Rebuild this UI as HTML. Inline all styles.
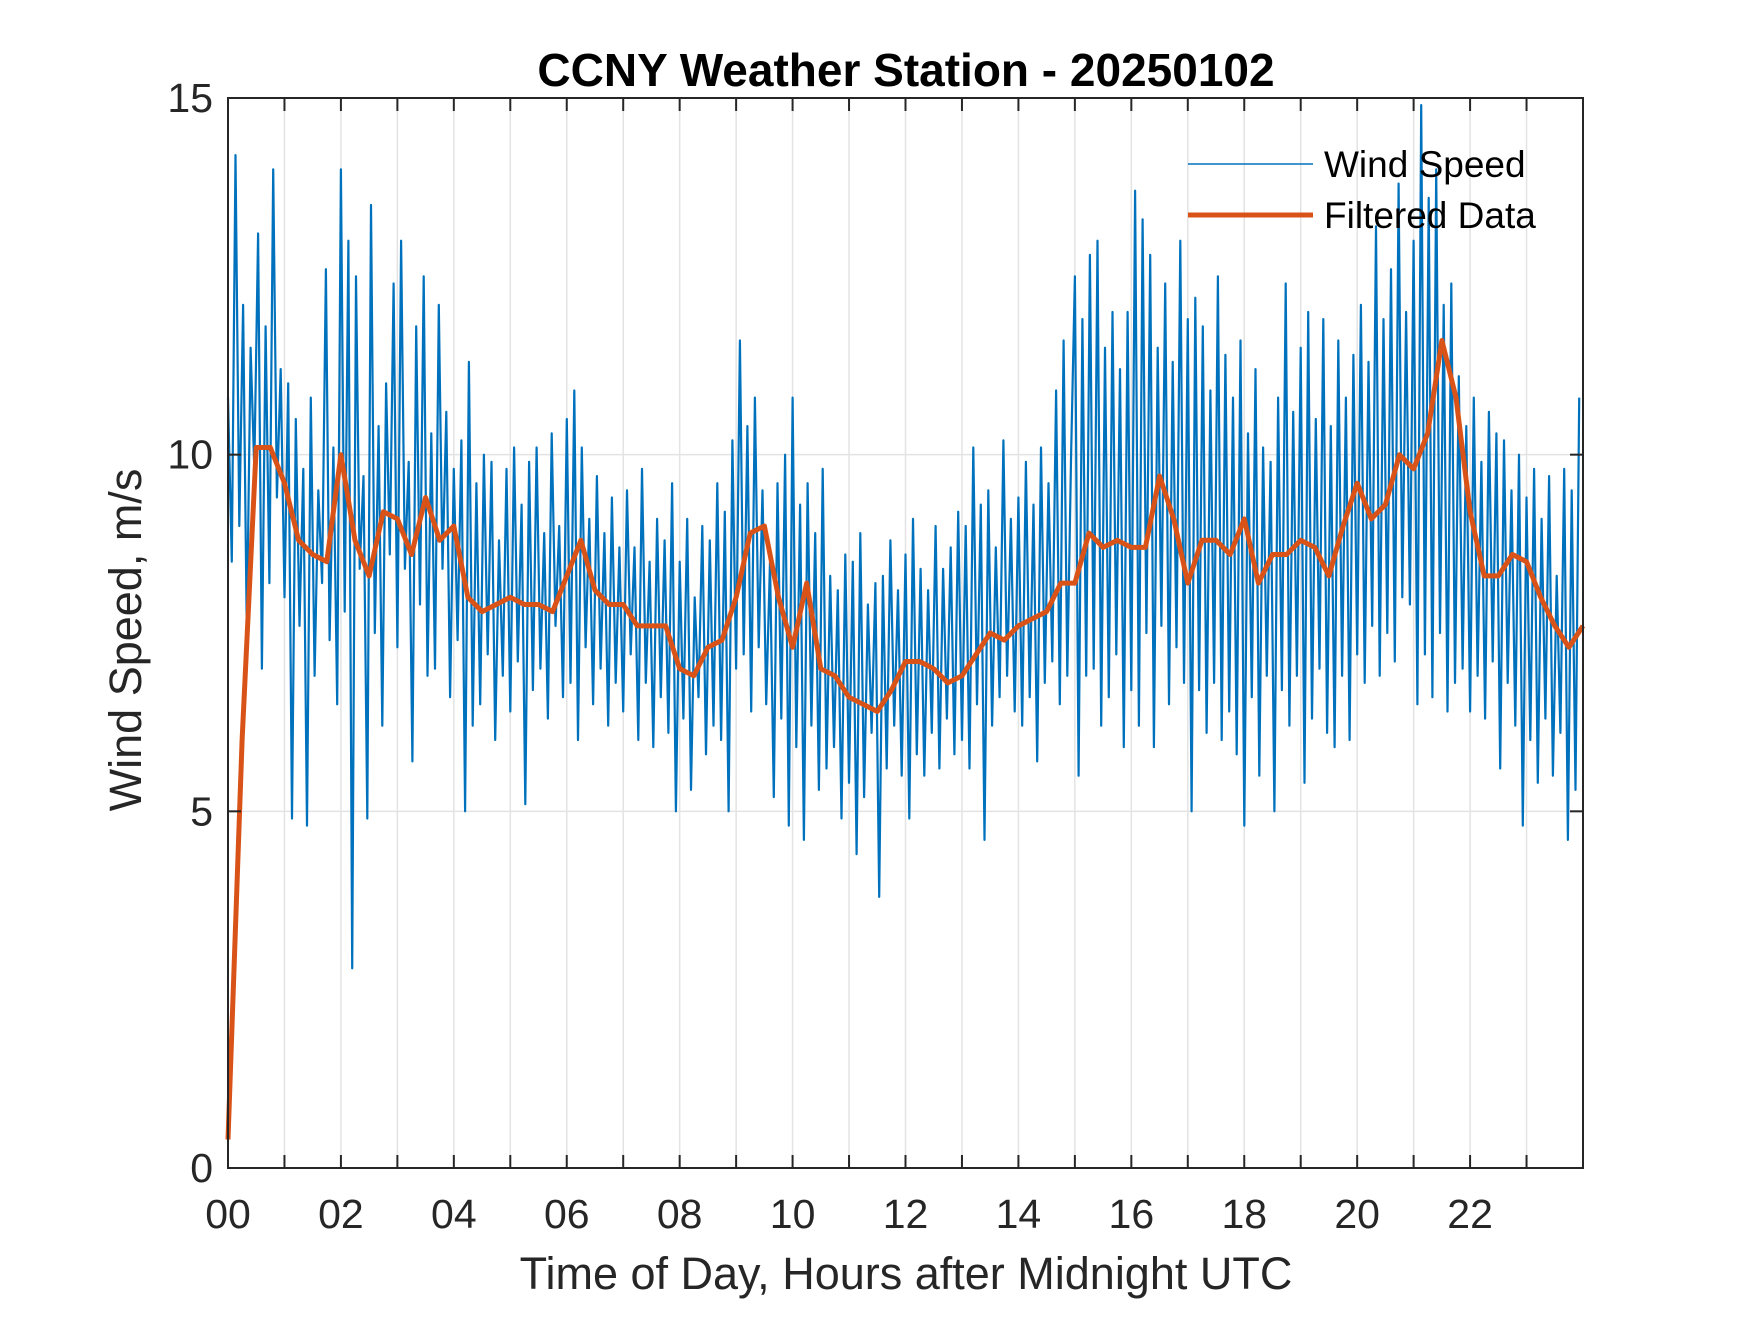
<!DOCTYPE html>
<html><head><meta charset="utf-8"><style>
body{margin:0;background:#fff}
svg text{font-family:"Liberation Sans",sans-serif;fill:#262626}
</style></head><body>
<svg id="chart" width="1750" height="1313" viewBox="0 0 1750 1313">
<rect width="1750" height="1313" fill="#fff"/>
<g id="grid"></g>
<g id="series"></g>
<g id="axes"></g>
<text x="906" y="86" text-anchor="middle" font-size="46" font-weight="bold" style="fill:#000">CCNY Weather Station - 20250102</text>
<text x="906" y="1289" text-anchor="middle" font-size="45">Time of Day, Hours after Midnight UTC</text>
<text transform="translate(141,640) rotate(-90)" text-anchor="middle" font-size="45">Wind Speed, m/s</text>
<g>
<line x1="1188" y1="164" x2="1313" y2="164" stroke="#0072BD" stroke-width="1.6"/>
<text x="1324" y="177" font-size="37" style="fill:#000">Wind Speed</text>
<line x1="1188" y1="215" x2="1313" y2="215" stroke="#D95319" stroke-width="5"/>
<text x="1324" y="228" font-size="37" style="fill:#000">Filtered Data</text>
</g>
</svg>
<script>
const xTickLabels=["00","02","04","06","08","10","12","14","16","18","20","22"];
const yTicks=[0,5,10,15];
const windSpeed=[
10.8,8.5,14.2,9.0,12.1,7.5,11.5,9.8,13.1,7.0,11.8,8.2,14.0,9.4,11.2,
8.0,11.0,4.9,10.5,7.6,9.8,4.8,10.8,6.9,9.5,8.2,12.6,7.4,10.1,6.5,
14.0,7.8,13.0,2.8,12.5,8.4,9.7,4.9,13.5,7.5,10.4,6.2,11.0,8.6,12.4,
7.3,13.0,8.4,9.9,5.7,11.8,7.9,12.5,6.9,10.3,7.0,12.1,8.4,10.6,6.6,
9.8,7.4,10.2,5.0,11.3,6.2,9.6,6.5,10.0,7.2,9.9,6.0,8.8,6.9,9.8,
6.4,10.1,7.1,9.3,5.1,9.9,6.7,10.1,7.0,8.9,6.3,10.3,7.6,9.0,6.6,
10.5,6.8,10.9,6.0,10.1,7.3,9.1,6.5,9.7,7.0,8.9,6.2,9.4,6.8,8.7,
6.4,9.5,7.2,8.7,6.0,9.8,6.8,8.5,5.9,9.1,6.6,8.8,6.1,9.6,5.0,
8.5,6.3,9.1,5.3,8.0,6.6,9.0,5.8,8.8,6.2,9.6,6.0,9.2,5.0,10.2,
7.0,11.6,7.2,10.4,6.4,10.8,7.3,9.5,6.5,8.5,5.2,9.6,6.3,10.0,4.8,
10.8,5.9,9.3,4.6,9.6,6.2,8.9,5.3,9.8,5.6,8.3,5.9,8.1,4.9,8.6,
5.4,8.5,4.4,8.9,5.2,7.9,6.1,8.2,3.8,8.3,5.6,8.8,6.2,8.1,5.5,
8.6,4.9,9.1,5.8,8.4,5.5,8.1,6.1,9.0,5.6,8.4,6.3,8.7,5.8,9.2,
6.0,9.0,5.6,10.1,6.5,9.3,4.6,9.5,6.2,8.7,6.6,10.2,6.9,9.1,6.4,
9.4,6.2,9.9,6.6,9.3,5.7,10.1,6.8,9.6,7.1,10.9,6.5,11.6,6.9,10.0,
12.5,5.5,11.9,6.9,12.8,7.0,13.0,6.2,11.5,6.6,12.0,7.2,11.2,5.9,12.0,
6.7,13.7,6.2,13.3,7.5,12.8,5.9,11.5,7.6,12.4,6.5,11.3,7.3,13.0,6.8,
11.9,5.0,12.2,6.7,11.8,6.1,10.9,6.8,12.5,6.0,11.4,6.4,10.8,5.8,11.6,
4.8,10.3,6.6,11.2,5.5,10.1,6.9,9.9,5.0,10.8,6.7,12.4,6.2,10.6,6.9,
11.5,5.4,12.0,6.3,10.5,7.0,11.9,6.1,10.4,5.9,11.6,6.9,10.8,6.0,11.4,
7.2,12.1,6.8,11.3,7.6,13.2,6.9,11.9,7.5,12.6,7.1,13.8,8.0,12.0,7.9,
13.0,6.5,14.9,7.2,13.6,6.6,14.0,7.5,12.1,6.4,12.4,6.8,11.1,7.0,10.4,
6.4,10.8,6.9,9.9,6.3,10.6,7.1,10.3,5.6,10.2,6.8,9.5,6.2,10.0,4.8,
9.4,6.0,9.8,5.4,9.1,6.3,9.7,5.5,8.3,6.1,9.8,4.6,9.5,5.3,10.8];
const filtered=[0.4,6.0,10.1,10.1,9.6,8.8,8.6,8.5,10.0,8.8,8.3,9.2,9.1,8.6,9.4,8.8,
9.0,8.0,7.8,7.9,8.0,7.9,7.9,7.8,8.3,8.8,8.1,7.9,7.9,7.6,7.6,7.6,
7.0,6.9,7.3,7.4,8.0,8.9,9.0,8.0,7.3,8.2,7.0,6.9,6.6,6.5,6.4,6.7,
7.1,7.1,7.0,6.8,6.9,7.2,7.5,7.4,7.6,7.7,7.8,8.2,8.2,8.9,8.7,8.8,
8.7,8.7,9.7,9.1,8.2,8.8,8.8,8.6,9.1,8.2,8.6,8.6,8.8,8.7,8.3,9.0,
9.6,9.1,9.3,10.0,9.8,10.3,11.6,10.8,9.2,8.3,8.3,8.6,8.5,8.0,7.6,7.3,7.6];
const X0=228,X1=1583,Y0=1168,Y1=98,HMAX=24,YMAX=15;
const xs=h=>X0+(X1-X0)*h/HMAX;
const ys=v=>Y0-(Y0-Y1)*v/YMAX;
const NS="http://www.w3.org/2000/svg";
function mk(tag,attrs,parent){const e=document.createElementNS(NS,tag);for(const k in attrs)e.setAttribute(k,attrs[k]);parent.appendChild(e);return e;}
const grid=document.getElementById('grid'),axes=document.getElementById('axes'),series=document.getElementById('series');
for(let h=1;h<24;h++){const g=mk('line',{x1:xs(h),x2:xs(h),y1:Y1,y2:Y0,stroke:'#e3e3e3','stroke-width':1.5},grid);

}
yTicks.forEach(v=>{if(v>0&&v<YMAX){const g=mk('line',{x1:X0,x2:X1,y1:ys(v),y2:ys(v),stroke:'#e3e3e3','stroke-width':1.5},grid);

}});
const n=windSpeed.length;
const wp=windSpeed.map((v,i)=>xs(i*HMAX/n).toFixed(1)+','+ys(v).toFixed(1)).join(' ');
const wl=mk('polyline',{points:wp,fill:'none',stroke:'#0072BD','stroke-width':2.2,'stroke-linejoin':'round'},series);


const m=filtered.length;
const fp=filtered.map((v,i)=>xs(i*HMAX/(m-1)).toFixed(1)+','+ys(v).toFixed(1)).join(' ');
const fl=mk('polyline',{points:fp,fill:'none',stroke:'#D95319','stroke-width':5,'stroke-linejoin':'round'},series);


const box=mk('rect',{x:X0,y:Y1,width:X1-X0,height:Y0-Y1,fill:'none',stroke:'#262626','stroke-width':2},axes);


for(let h=1;h<24;h++){
const t1=mk('line',{x1:xs(h),x2:xs(h),y1:Y0,y2:Y0-13,stroke:'#262626','stroke-width':2},axes);


const t2=mk('line',{x1:xs(h),x2:xs(h),y1:Y1,y2:Y1+13,stroke:'#262626','stroke-width':2},axes);

}
xTickLabels.forEach((l,i)=>{const t=mk('text',{x:xs(i*2),y:1228,'text-anchor':'middle','font-size':41},axes);t.textContent=l;

});
yTicks.forEach(v=>{
const a=mk('line',{x1:X0,x2:X0+13,y1:ys(v),y2:ys(v),stroke:'#262626','stroke-width':2},axes);


const b=mk('line',{x1:X1,x2:X1-13,y1:ys(v),y2:ys(v),stroke:'#262626','stroke-width':2},axes);


const t=mk('text',{x:213,y:ys(v)+14,'text-anchor':'end','font-size':41},axes);t.textContent=v;

});
</script>
</body></html>
